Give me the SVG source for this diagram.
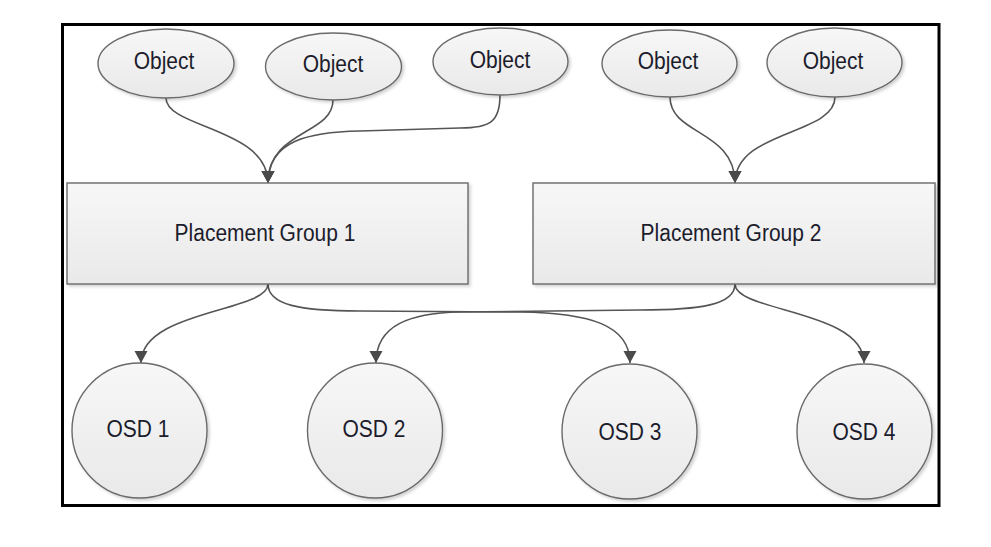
<svg xmlns="http://www.w3.org/2000/svg" width="991" height="547" viewBox="0 0 991 547">
<style>
.shape{fill:url(#g);stroke:#6a6a6a;stroke-width:1.4;filter:url(#sh)}
.lbl{font-family:"Liberation Sans",Arial,sans-serif;font-size:21px;fill:#1c1c2c;text-anchor:middle}
.conn{fill:none;stroke:#555;stroke-width:1.6;marker-end:url(#arr)}
</style>
<defs>
<linearGradient id="g" x1="0" y1="0" x2="0" y2="1">
<stop offset="0" stop-color="#f7f7f7"/>
<stop offset="1" stop-color="#e9e9e9"/>
</linearGradient>
<filter id="sh" x="-10%" y="-10%" width="125%" height="125%">
<feDropShadow dx="2" dy="2" stdDeviation="1.5" flood-color="#000" flood-opacity="0.18"/>
</filter>
<marker id="arr" markerUnits="userSpaceOnUse" markerWidth="14" markerHeight="14" refX="12" refY="6.5" orient="auto">
<path d="M0,0 L12,6.5 L0,13 z" fill="#4a4a4a"/>
</marker>
</defs>
<rect x="62.5" y="24.5" width="876.5" height="481" fill="#fff" stroke="#000" stroke-width="3"/>
<g id="connectors">
<path class="conn" d="M166,98 C166,128 268,128 268,183"/>
<path class="conn" d="M333,100 C333,135 268,130 268,183"/>
<path class="conn" d="M500,95 C500,122 490,128 460,128 L360,131 C310,132 268,140 268,183"/>
<path class="conn" d="M670,97 C670,135 735,130 735,183"/>
<path class="conn" d="M835,97 C835,135 735,130 735,183"/>
<path class="conn" d="M268,284 C268,312 141,310 141,363"/>
<path class="conn" d="M268,284 C268,305 300,311 360,311 L520,312 C590,313 630,325 630,363"/>
<path class="conn" d="M735,284 C735,305 700,310 640,310 L460,312 C410,313 376,325 376,363"/>
<path class="conn" d="M735,284 C735,312 864,310 864,363"/>
</g>
<g id="obj1"><ellipse class="shape" cx="166" cy="63.5" rx="68" ry="34.5"/><text class="lbl" transform="translate(164,61) scale(1,1.12)" y="7.5">Object</text></g>
<g id="obj2"><ellipse class="shape" cx="333.5" cy="66.5" rx="68" ry="33.5"/><text class="lbl" transform="translate(333,64) scale(1,1.12)" y="7.5">Object</text></g>
<g id="obj3"><ellipse class="shape" cx="500.5" cy="61.5" rx="67.5" ry="33.5"/><text class="lbl" transform="translate(500,60) scale(1,1.12)" y="7.5">Object</text></g>
<g id="obj4"><ellipse class="shape" cx="669.5" cy="63.5" rx="67.5" ry="33.5"/><text class="lbl" transform="translate(668,61) scale(1,1.12)" y="7.5">Object</text></g>
<g id="obj5"><ellipse class="shape" cx="834.5" cy="62.5" rx="67.5" ry="34.5"/><text class="lbl" transform="translate(833,61) scale(1,1.12)" y="7.5">Object</text></g>
<g id="pg1"><rect class="shape" x="67" y="183" width="401" height="101"/><text class="lbl" transform="translate(265,232.5) scale(1,1.12)" y="7.5">Placement Group 1</text></g>
<g id="pg2"><rect class="shape" x="533" y="183" width="402" height="101"/><text class="lbl" transform="translate(731,232.5) scale(1,1.12)" y="7.5">Placement Group 2</text></g>
<g id="osd1"><circle class="shape" cx="139.5" cy="430.5" r="67.5"/><text class="lbl" transform="translate(138,429) scale(1,1.12)" y="7.5">OSD 1</text></g>
<g id="osd2"><circle class="shape" cx="375" cy="430.5" r="67.5"/><text class="lbl" transform="translate(374,429) scale(1,1.12)" y="7.5">OSD 2</text></g>
<g id="osd3"><circle class="shape" cx="629.5" cy="431.5" r="67.5"/><text class="lbl" transform="translate(630,432) scale(1,1.12)" y="7.5">OSD 3</text></g>
<g id="osd4"><circle class="shape" cx="864.5" cy="431.5" r="67.5"/><text class="lbl" transform="translate(864,432) scale(1,1.12)" y="7.5">OSD 4</text></g>
</svg>
